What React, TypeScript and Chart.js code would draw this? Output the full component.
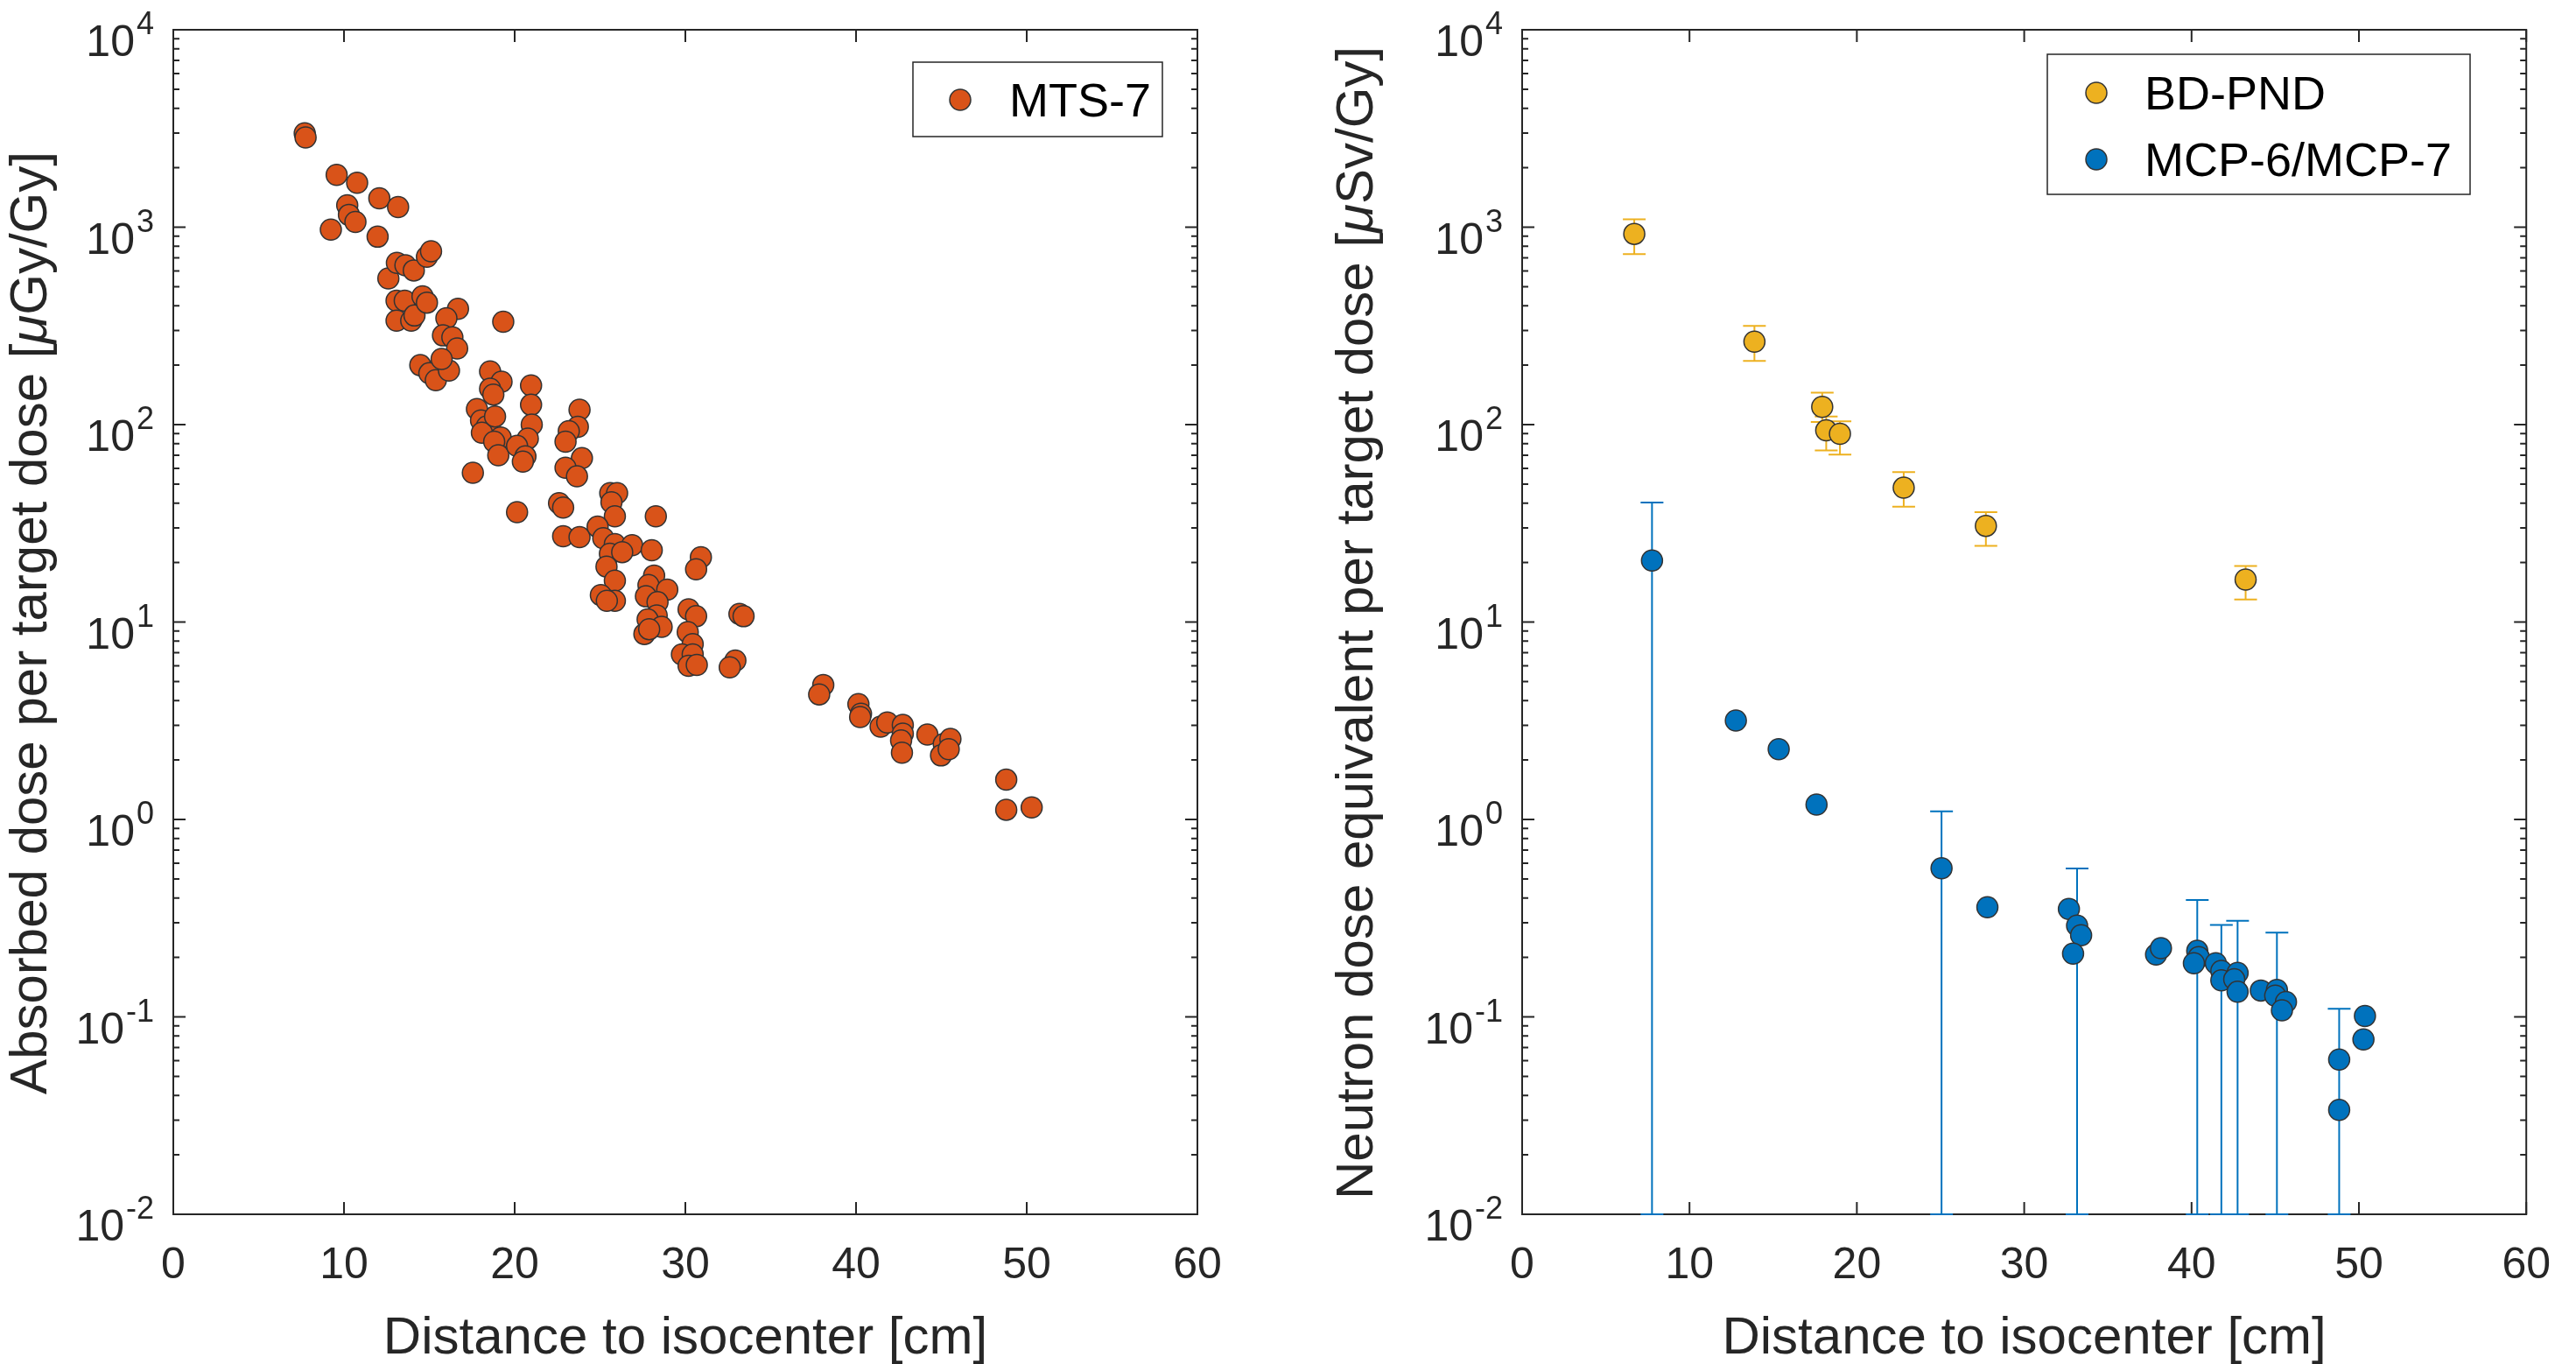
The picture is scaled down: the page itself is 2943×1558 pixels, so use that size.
import React, { useEffect, useRef } from 'react'
import Chart from 'chart.js/auto'

const FONT = '"Liberation Sans", Arial, Helvetica, sans-serif'
const AXIS_COLOR = '#262626'

// left panel: MTS-7 absorbed dose per target dose [µGy/Gy]
const mtsDistance = [
    7.7, 7.75, 9.57, 10.77, 10.19, 10.29, 10.67, 9.23, 12.07, 13.17,
    11.97, 12.6, 13.1, 13.6, 14.09, 14.86, 15.1, 13.08, 13.56, 13.08,
    13.94, 14.13, 14.6, 14.86, 16.68, 16.0, 19.33, 15.8, 16.35, 16.63,
    14.47, 15.0, 15.38, 16.15, 15.72, 18.56, 19.23, 18.56, 18.75, 20.96,
    17.79, 18.03, 18.37, 18.08, 18.85, 19.18, 18.8, 19.04, 20.96, 21.0,
    20.77, 20.14, 20.63, 20.48, 17.55, 20.14, 23.8, 23.7, 23.17, 22.98,
    23.94, 22.98, 23.65, 22.6, 22.84, 22.84, 23.8, 25.6, 26.0, 25.67,
    25.87, 24.86, 25.19, 25.87, 25.58, 26.88, 26.3, 25.38, 25.87, 25.05,
    25.87, 25.4, 28.27, 28.03, 28.17, 27.84, 28.94, 27.69, 28.37, 28.32,
    27.79, 28.61, 27.6, 27.88, 30.91, 30.63, 30.19, 30.63, 30.14, 30.43,
    29.8, 30.43, 30.19, 30.67, 33.17, 33.41, 32.93, 32.6, 38.08, 37.84,
    40.14, 40.29, 40.24, 41.44, 41.83, 42.74, 42.74, 42.64, 42.69, 44.18,
    45.14, 45.53, 44.98, 45.43, 48.8, 48.8, 50.29
]
const mtsDose = [
    2990, 2850, 1840, 1680, 1290, 1155, 1064, 973, 1400, 1265,
    895, 550, 660, 641, 604, 709, 755, 424, 424, 336,
    336, 357, 446, 415, 386, 346, 332, 283, 277, 243,
    200, 182, 168, 188, 215, 186, 165, 152, 142, 158,
    120, 105, 98, 91, 110, 86, 82, 70, 126, 100,
    85, 78, 69, 65, 57, 36, 119, 97.5, 92.7, 82,
    67.6, 60.5, 54.7, 40, 38, 27.2, 26.9, 45, 45, 40.4,
    34.3, 30.4, 26.6, 24.8, 22.2, 24.5, 22.6, 19.1, 16.2, 13.7,
    12.8, 12.8, 34.3, 23.1, 17.2, 15.4, 14.6, 13.5, 12.6, 10.8,
    10.3, 9.46, 8.7, 9.2, 21.3, 18.5, 11.6, 10.7, 8.9, 7.73,
    6.85, 6.85, 6.0, 6.06, 11.0, 10.7, 6.38, 5.9, 4.8, 4.3,
    3.84, 3.43, 3.3, 2.95, 3.1, 3.01, 2.72, 2.51, 2.18, 2.69,
    2.41, 2.56, 2.11, 2.27, 1.59, 1.12, 1.15
]

// right panel: BD-PND neutron dose equivalent [µSv/Gy] with error bars
const bdDistance = [6.7, 13.88, 17.93, 18.17, 18.99, 22.8, 27.71, 43.23]
const bdDose = [925, 263, 123, 93.5, 89.8, 47.9, 30.7, 16.4]
const bdLow = [731, 210, 103, 74, 70.4, 38.4, 24.3, 13.0]
const bdHigh = [1096, 316, 145, 110, 104, 57.5, 36, 19.2]

// right panel: MCP-6/MCP-7 (null = no error bar)
const mcpDistance = [
    7.76, 12.77, 15.33, 17.59, 25.06, 27.8, 32.67, 33.16, 33.4, 32.92,
    37.88, 38.17, 40.34, 40.43, 40.14, 41.45, 41.78, 41.78, 42.75, 42.55,
    42.75, 44.14, 45.1, 45.0, 45.64, 45.4, 48.82, 48.82, 50.36, 50.27
]
const mcpDose = [
    20.5, 3.17, 2.27, 1.19, 0.566, 0.359, 0.352, 0.29, 0.259, 0.209,
    0.207, 0.223, 0.216, 0.201, 0.187, 0.187, 0.171, 0.153, 0.167, 0.155,
    0.134, 0.136, 0.137, 0.128, 0.119, 0.108, 0.0608, 0.0338, 0.101, 0.0769
]
const mcpLow = [
    0.01, null, null, null, 0.01, null, null, 0.01, null, null,
    null, null, 0.01, null, null, null, 0.01, null, 0.01, null,
    null, null, 0.01, null, null, null, 0.01, null, null, null
]
const mcpHigh = [
    40.3, null, null, null, 1.10, null, null, 0.565, null, null,
    null, null, 0.391, null, null, null, 0.292, null, 0.307, null,
    null, null, 0.267, null, null, null, 0.110, null, null, null
]

const xTicks = [0, 10, 20, 30, 40, 50, 60]
const decades = [-2, -1, 0, 1, 2, 3, 4]

const MTS_COLOR = '#D95319'
const BD_COLOR = '#EDB120'
const MCP_COLOR = '#0072BD'
const EDGE = '#333333'

const points = (xs: number[], ys: number[]) => xs.map((x, i) => ({ x, y: ys[i] }))

type TitlePart = { text: string; italic?: boolean }
type ErrorSet = { xs: number[]; low: (number | null)[]; high: (number | null)[]; color: string }
type LegendRow = { label: string; color: string; cy: number }

interface PanelProps {
    left: number
    width: number
    yWidth: number
    padRight: number
    datasets: any[]
    errors: ErrorSet[]
    yTitle: TitlePart[]
    yTitleX: number
    legendBox: { x: number; y: number; w: number; h: number; markerX: number; textX: number }
    legendRows: LegendRow[]
}

const drawParts = (ctx: CanvasRenderingContext2D, parts: TitlePart[], size: number, cx: number, baseY: number) => {
    const fontOf = (p: TitlePart) => `${p.italic ? 'italic ' : ''}${size}px ${FONT}`
    let total = 0
    parts.forEach(p => { ctx.font = fontOf(p); total += ctx.measureText(p.text).width })
    let x = cx - total / 2
    ctx.textAlign = 'left'
    ctx.textBaseline = 'alphabetic'
    parts.forEach(p => {
        ctx.font = fontOf(p)
        ctx.fillText(p.text, x, baseY)
        x += ctx.measureText(p.text).width
    })
}

const Panel: React.FC<PanelProps> = (props) => {
    const chartRef = useRef<HTMLCanvasElement>(null)
    const chartInstance = useRef<Chart | null>(null)

    useEffect(() => {
        if (!chartRef.current) return
        const ctx = chartRef.current.getContext('2d')
        if (!ctx) return
        if (chartInstance.current) chartInstance.current.destroy()

        const panelPlugin = {
            id: 'matlabPanel',
            beforeDatasetsDraw(chart: any) {
                const c = chart.ctx as CanvasRenderingContext2D
                const a = chart.chartArea
                const xs = chart.scales.x
                const ys = chart.scales.y
                c.save()
                c.strokeStyle = AXIS_COLOR
                c.lineWidth = 2
                c.strokeRect(a.left, a.top, a.right - a.left, a.bottom - a.top)
                c.beginPath()
                xTicks.forEach(v => {
                    const px = xs.getPixelForValue(v)
                    c.moveTo(px, a.bottom); c.lineTo(px, a.bottom - 14)
                    c.moveTo(px, a.top); c.lineTo(px, a.top + 14)
                })
                decades.forEach(e => {
                    const py = ys.getPixelForValue(Math.pow(10, e))
                    c.moveTo(a.left, py); c.lineTo(a.left + 14, py)
                    c.moveTo(a.right, py); c.lineTo(a.right - 14, py)
                    if (e < 4) {
                        for (let m = 2; m <= 9; m++) {
                            const pm = ys.getPixelForValue(m * Math.pow(10, e))
                            c.moveTo(a.left, pm); c.lineTo(a.left + 7, pm)
                            c.moveTo(a.right, pm); c.lineTo(a.right - 7, pm)
                        }
                    }
                })
                c.stroke()

                // y tick labels with superscript exponents
                c.fillStyle = AXIS_COLOR
                c.textBaseline = 'alphabetic'
                decades.forEach(e => {
                    const py = ys.getPixelForValue(Math.pow(10, e))
                    const sup = e < 0 ? '-' + (-e) : String(e)
                    c.font = `36px ${FONT}`
                    c.textAlign = 'left'
                    const supW = c.measureText(sup).width
                    const supX = a.left - 22 - supW
                    c.fillText(sup, supX, py + 5)
                    c.font = `50px ${FONT}`
                    c.textAlign = 'right'
                    c.fillText('10', supX - 2, py + 30)
                })

                // axis titles
                drawParts(c, [{ text: 'Distance to isocenter [cm]' }], 60, (a.left + a.right) / 2, 1546)
                c.save()
                c.translate(props.yTitleX, (a.top + a.bottom) / 2 + 1)
                c.rotate(-Math.PI / 2)
                drawParts(c, props.yTitle, 60, 0, 0)
                c.restore()

                // error bars
                c.save()
                c.beginPath()
                c.rect(a.left, a.top, a.right - a.left, a.bottom - a.top + 2)
                c.clip()
                props.errors.forEach(es => {
                    c.strokeStyle = es.color
                    c.lineWidth = 2
                    c.beginPath()
                    es.xs.forEach((v, i) => {
                        const lo = es.low[i]
                        const hi = es.high[i]
                        if (lo == null || hi == null) return
                        const px = xs.getPixelForValue(v)
                        const p1 = ys.getPixelForValue(lo)
                        const p2 = ys.getPixelForValue(hi)
                        c.moveTo(px, p1); c.lineTo(px, p2)
                        c.moveTo(px - 13, p1); c.lineTo(px + 13, p1)
                        c.moveTo(px - 13, p2); c.lineTo(px + 13, p2)
                    })
                    c.stroke()
                })
                c.restore()
                c.restore()
            },
            afterDatasetsDraw(chart: any) {
                const c = chart.ctx as CanvasRenderingContext2D
                const lb = props.legendBox
                c.save()
                c.fillStyle = '#ffffff'
                c.fillRect(lb.x, lb.y, lb.w, lb.h)
                c.strokeStyle = AXIS_COLOR
                c.lineWidth = 1.5
                c.strokeRect(lb.x, lb.y, lb.w, lb.h)
                props.legendRows.forEach(r => {
                    c.beginPath()
                    c.arc(lb.markerX, r.cy, 12, 0, Math.PI * 2)
                    c.fillStyle = r.color
                    c.fill()
                    c.strokeStyle = EDGE
                    c.lineWidth = 1.5
                    c.stroke()
                    c.fillStyle = '#000000'
                    c.font = `54px ${FONT}`
                    c.textAlign = 'left'
                    c.textBaseline = 'alphabetic'
                    c.fillText(r.label, lb.textX, r.cy + 19)
                })
                c.restore()
            }
        }

        chartInstance.current = new Chart(ctx, {
            type: 'scatter',
            data: { datasets: props.datasets },
            options: {
                animation: false,
                responsive: true,
                maintainAspectRatio: false,
                events: [],
                layout: { padding: { top: 34, right: props.padRight, left: 0, bottom: 0 } },
                plugins: { legend: { display: false }, tooltip: { enabled: false } },
                elements: { point: { radius: 12, borderWidth: 1.5, borderColor: EDGE } },
                scales: {
                    x: {
                        type: 'linear',
                        min: 0,
                        max: 60,
                        afterBuildTicks: (s: any) => { s.ticks = xTicks.map(v => ({ value: v })) },
                        afterFit: (s: any) => { s.height = 171 },
                        ticks: { color: AXIS_COLOR, padding: 29, font: { family: FONT, size: 50 } },
                        grid: { display: false, drawTicks: false },
                        border: { display: false }
                    },
                    y: {
                        type: 'logarithmic',
                        min: 0.01,
                        max: 10000,
                        afterFit: (s: any) => { s.width = props.yWidth },
                        ticks: { display: false },
                        grid: { display: false, drawTicks: false },
                        border: { display: false }
                    }
                }
            },
            plugins: [panelPlugin]
        } as any)

        return () => {
            if (chartInstance.current) {
                chartInstance.current.destroy()
                chartInstance.current = null
            }
        }
    }, [props])

    return (
        <div style={{ position: 'absolute', left: props.left, top: 0, width: props.width, height: 1558 }}>
            <canvas ref={chartRef}></canvas>
        </div>
    )
}

const leftProps: PanelProps = {
    left: 0,
    width: 1470,
    yWidth: 198,
    padRight: 102,
    datasets: [
        { label: 'MTS-7', data: points(mtsDistance, mtsDose), backgroundColor: MTS_COLOR }
    ],
    errors: [],
    yTitle: [{ text: 'Absorbed dose per target dose [' }, { text: 'μ', italic: true }, { text: 'Gy/Gy]' }],
    yTitleX: 53,
    legendBox: { x: 1043, y: 71, w: 285, h: 85, markerX: 1097, textX: 1153 },
    legendRows: [{ label: 'MTS-7', color: MTS_COLOR, cy: 114 }]
}

const rightProps: PanelProps = {
    left: 1470,
    width: 1473,
    yWidth: 269,
    padRight: 34,
    datasets: [
        { label: 'BD-PND', data: points(bdDistance, bdDose), backgroundColor: BD_COLOR },
        { label: 'MCP-6/MCP-7', data: points(mcpDistance, mcpDose), backgroundColor: MCP_COLOR }
    ],
    errors: [
        { xs: bdDistance, low: bdLow, high: bdHigh, color: BD_COLOR },
        { xs: mcpDistance, low: mcpLow, high: mcpHigh, color: MCP_COLOR }
    ],
    yTitle: [{ text: 'Neutron dose equivalent per target dose [' }, { text: 'μ', italic: true }, { text: 'Sv/Gy]' }],
    yTitleX: 98,
    legendBox: { x: 869, y: 62, w: 483, h: 160, markerX: 925, textX: 980 },
    legendRows: [
        { label: 'BD-PND', color: BD_COLOR, cy: 106 },
        { label: 'MCP-6/MCP-7', color: MCP_COLOR, cy: 182 }
    ]
}

export default function App() {
    useEffect(() => {
        document.body.style.margin = '0'
    }, [])
    return (
        <div style={{ position: 'absolute', left: 0, top: 0, width: 2943, height: 1558, background: '#ffffff' }}>
            <Panel {...leftProps} />
            <Panel {...rightProps} />
        </div>
    )
}
